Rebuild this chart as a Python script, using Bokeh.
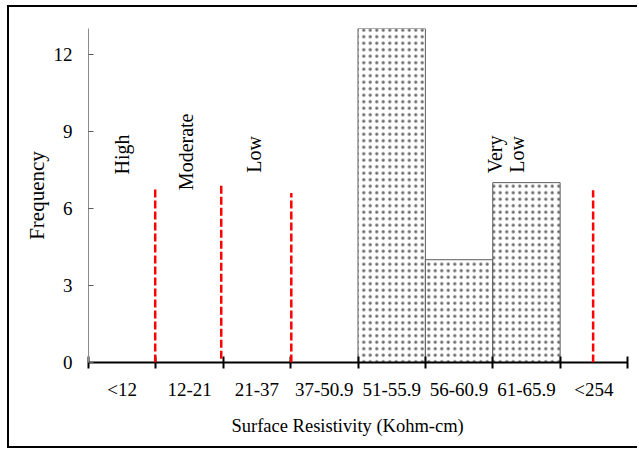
import numpy as np
from bokeh.plotting import figure
from bokeh.models import ColumnDataSource, FixedTicker, Arrow, Title
from bokeh.core.properties import value
from bokeh.embed import file_html
from bokeh.resources import INLINE

# Surface resistivity classes and their observed frequencies
categories = ["<12", "12-21", "21-37", "37-50.9", "51-55.9", "56-60.9", "61-65.9", "<254"]
frequency = [0, 0, 0, 0, 13, 4, 7, 0]

y_ticks = [0, 3, 6, 9, 12]

# Corrosivity zone names and where they are written
zone_names = ["High", "Moderate", "Low", "Very\nLow"]
zone_label_x = [0.49, 1.45, 2.45, 6.2]
zone_label_y = [8.1, 8.2, 8.1, 8.1]

# Dashed dividers between the zones
divider_x = [0.99, 1.97, 3.01, 7.49]
divider_top = [6.8, 6.97, 6.6, 6.7]
divider_bottom = [0, 0.15, 0, 0]

x_title = "Surface Resistivity (Kohm-cm)"
y_title = "Frequency"

FONT = "Liberation Serif"
n = len(categories)
W, H = 630, 443

p = figure(
    width=W, height=H,
    x_range=(0, n), y_range=(0, 13),
    output_backend="svg", toolbar_location=None,
    min_border_left=79, min_border_right=12,
    min_border_top=21, min_border_bottom=88,
    styles={
        "margin-left": "7px", "margin-top": "5px",
        "border-left": "2px solid black",
        "border-top": "2px solid black",
        "border-bottom": "2px solid black",
        "background": "white",
    },
)
p.grid.visible = False
p.outline_line_color = None
p.background_fill_color = "white"
p.border_fill_color = "white"

# Histogram bars (only the non-empty classes)
bars = ColumnDataSource(dict(
    left=[i for i, f in enumerate(frequency) if f > 0],
    right=[i + 1 for i, f in enumerate(frequency) if f > 0],
    top=[f for f in frequency if f > 0],
))
p.quad(left="left", right="right", bottom=0, top="top", source=bars,
       fill_color="white", line_color="#5a5a5a", line_width=1,
       hatch_pattern="dot", hatch_color="#6a6a6a", hatch_scale=6.5, hatch_weight=1.1)

# Zone dividers
dividers = ColumnDataSource(dict(x=divider_x, y0=divider_bottom, y1=divider_top))
p.add_layout(Arrow(end=None, source=dividers, x_start="x", y_start="y0",
                   x_end="x", y_end="y1", line_color="#ff0000",
                   line_width=2.5, line_dash="8 3"))

# Zone names, written vertically
zones = ColumnDataSource(dict(x=zone_label_x, y=zone_label_y, t=zone_names))
p.text(x="x", y="y", text="t", source=zones, angle=np.pi / 2,
       text_font=value(FONT), text_font_size="20px", text_color="black",
       text_align="center", text_baseline="middle", text_line_height=1.0)

# X axis: labels at class centres, ticks at class boundaries
centers = [i + 0.5 for i in range(n)]
xa = p.xaxis[0]
xa.ticker = FixedTicker(ticks=centers, minor_ticks=list(range(n + 1)))
xa.major_label_overrides = {c: lab for c, lab in zip(centers, categories)}
xa.major_tick_in = 0
xa.major_tick_out = 0
xa.minor_tick_in = 6
xa.minor_tick_out = 6
xa.minor_tick_line_color = "black"
xa.minor_tick_line_width = 2
xa.axis_line_color = "black"
xa.axis_line_width = 2
xa.major_label_standoff = 10

# X axis title as a panel below the axis, offset from the frame's left edge
p.add_layout(Title(text=x_title, align="left", offset=143, standoff=22,
                   text_font=FONT, text_font_size="18.5px",
                   text_font_style="normal", text_color="black"), "below")

# Y axis
ya = p.yaxis[0]
ya.ticker = FixedTicker(ticks=y_ticks)
ya.major_tick_in = 5
ya.major_tick_out = 0
ya.minor_tick_line_color = None
ya.axis_line_color = "#8c8c8c"
ya.major_tick_line_color = "#5a5a5a"
ya.major_label_standoff = 16
ya.axis_label = y_title
ya.axis_label_standoff = 2
ya.axis_label_text_font = FONT
ya.axis_label_text_font_size = "21px"
ya.axis_label_text_font_style = "normal"
ya.axis_label_text_color = "black"

for ax in (xa, ya):
    ax.major_label_text_font = FONT
    ax.major_label_text_font_size = "19px"
    ax.major_label_text_color = "black"

open("out.html", "w").write(file_html(p, INLINE))
